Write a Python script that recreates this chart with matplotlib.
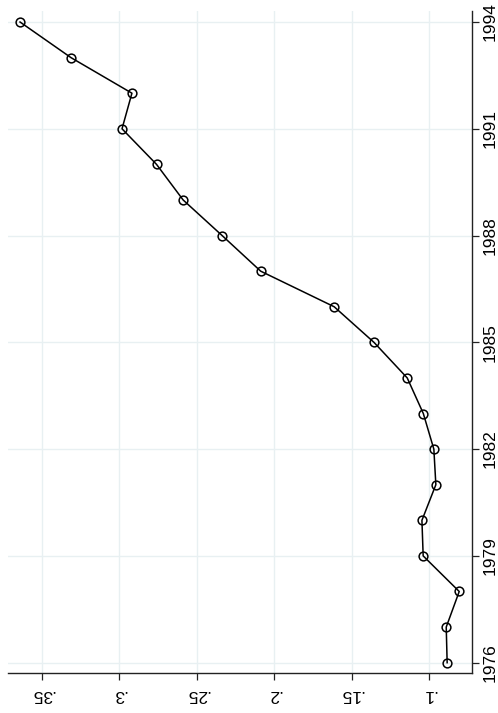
import matplotlib.pyplot as plt

# jaar en waarde per jaar
years = [1976, 1977, 1978, 1979, 1980, 1981, 1982, 1983, 1984, 1985,
         1986, 1987, 1988, 1989, 1990, 1991, 1992, 1993, 1994]
values = [0.0882, 0.0888, 0.0804, 0.1037, 0.1045, 0.0955, 0.0968, 0.1036, 0.1140, 0.1355,
          0.1612, 0.2087, 0.2336, 0.2588, 0.2760, 0.2983, 0.2919, 0.3313, 0.3642]

value_ticks = [0.1, 0.15, 0.2, 0.25, 0.3, 0.35]
value_labels = ['.1', '.15', '.2', '.25', '.3', '.35']
year_ticks = [1976, 1979, 1982, 1985, 1988, 1991, 1994]

plt.rcParams['font.family'] = ['Liberation Sans', 'DejaVu Sans']

fig = plt.figure(figsize=(4.98, 7.13), dpi=100)
ax = fig.add_axes([0.016, 0.0561, 0.931, 0.9285])

# gekantelde grafiek: waarde horizontaal (omgekeerd), jaar verticaal
ax.plot(values, years, color='black', linewidth=1.1, marker='o',
        markersize=6.3, markerfacecolor='none', markeredgecolor='black',
        markeredgewidth=1.1, zorder=3)

ax.set_xlim(0.372, 0.0724)
ax.set_ylim(1975.71, 1994.31)

ax.set_xticks(value_ticks)
ax.set_xticklabels(value_labels, rotation=180, fontsize=12.5)
ax.set_yticks(year_ticks)
ax.set_yticklabels([str(y) for y in year_ticks], rotation=90, fontsize=12.5,
                   va='center')
ax.yaxis.tick_right()

ax.grid(True, color='#e8f0f2', linewidth=1.0, zorder=0)
ax.set_axisbelow(True)

for side in ['top', 'left']:
    ax.spines[side].set_visible(False)
for side in ['bottom', 'right']:
    ax.spines[side].set_linewidth(1.0)
    ax.spines[side].set_color('#222222')

ax.tick_params(axis='x', direction='out', length=5, width=0.9, pad=5,
               color='#222222')
ax.tick_params(axis='y', direction='out', length=5, width=0.9, pad=3,
               color='#222222')

fig.savefig('out.png', dpi=100)
